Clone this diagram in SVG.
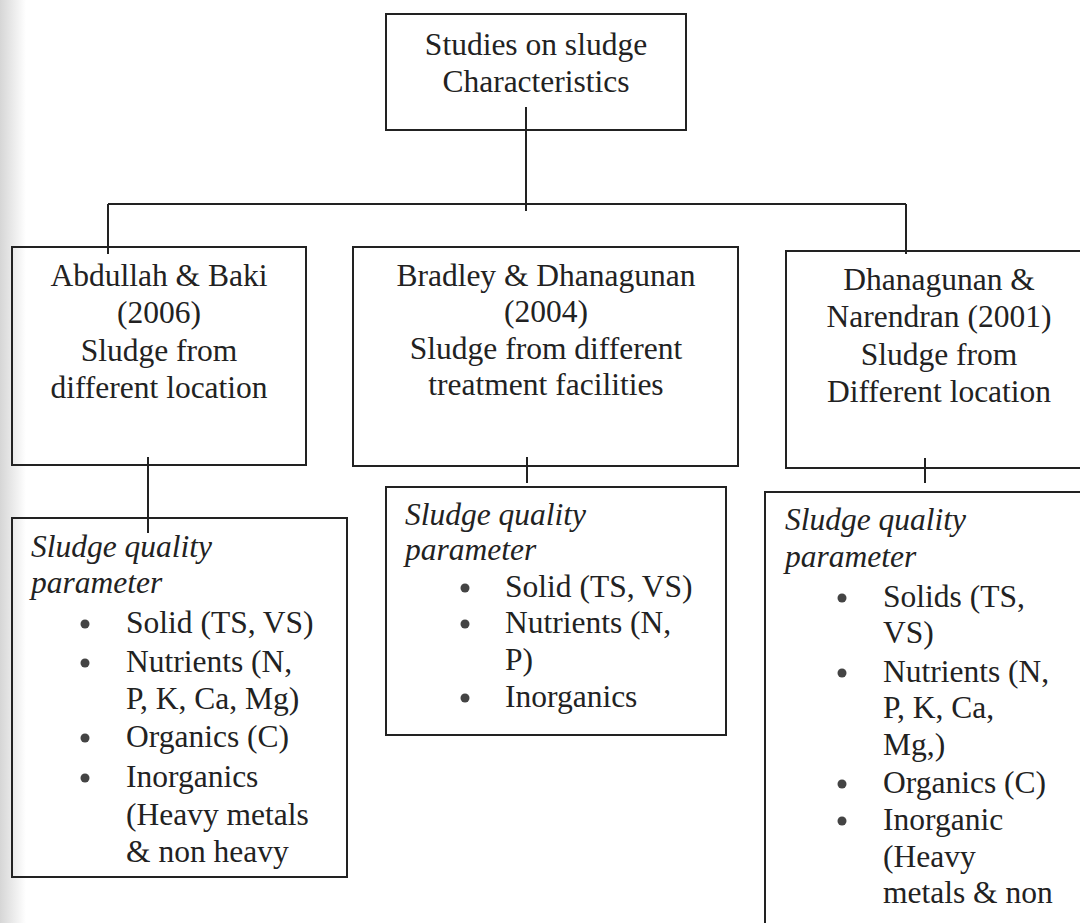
<svg xmlns="http://www.w3.org/2000/svg" width="1080" height="923" viewBox="0 0 1080 923">
<defs>
<linearGradient id="scan" x1="0" y1="0" x2="1" y2="0">
<stop offset="0" stop-color="#d6d6d6"/>
<stop offset="1" stop-color="#ffffff"/>
</linearGradient>
<style>
.box{fill:none;stroke:#222;stroke-width:2}
.ln{fill:none;stroke:#222;stroke-width:2}
.t{font-size:31.5px;fill:#222}
.c{text-anchor:middle}
.i{font-style:italic}
.b{fill:#444}
</style>
</defs>
<rect width="1080" height="923" fill="#fff"/>
<rect x="0" y="0" width="26" height="923" fill="url(#scan)"/>

<g id="connectors">
<path class="ln" d="M526 107V211"/>
<path class="ln" d="M108 204H906"/>
<path class="ln" d="M108 204V254"/>
<path class="ln" d="M906 204V254"/>
<path class="ln" d="M148 457V533"/>
<path class="ln" d="M527 457V483"/>
<path class="ln" d="M925 458V483"/>
</g>

<g font-family="Liberation Serif, Tinos, DejaVu Serif, Noto Serif, serif">
<g id="root">
<rect class="box" x="386" y="14" width="300" height="116"/>
<text class="t c" x="536" y="55">Studies on sludge</text>
<text class="t c" x="536" y="92">Characteristics</text>
</g>

<g id="study1">
<rect class="box" x="12" y="247" width="294" height="218"/>
<text class="t c" x="159" y="286">Abdullah &amp; Baki</text>
<text class="t c" x="159" y="323">(2006)</text>
<text class="t c" x="159" y="361">Sludge from</text>
<text class="t c" x="159" y="398">different location</text>
</g>

<g id="study2">
<rect class="box" x="353" y="247" width="385" height="219"/>
<text class="t c" x="546" y="286">Bradley &amp; Dhanagunan</text>
<text class="t c" x="546" y="322">(2004)</text>
<text class="t c" x="546" y="359">Sludge from different</text>
<text class="t c" x="546" y="395">treatment facilities</text>
</g>

<g id="study3">
<rect class="box" x="786" y="251" width="310" height="217"/>
<text class="t c" x="939" y="290">Dhanagunan &amp;</text>
<text class="t c" x="939" y="327">Narendran (2001)</text>
<text class="t c" x="939" y="365">Sludge from</text>
<text class="t c" x="939" y="402">Different location</text>
</g>

<g id="params1">
<rect class="box" x="12" y="518" width="335" height="359"/>
<text class="t i" x="31" y="557">Sludge quality</text>
<text class="t i" x="31" y="593">parameter</text>
<circle class="b" cx="85" cy="624" r="4.5"/>
<circle class="b" cx="85" cy="663" r="4.5"/>
<circle class="b" cx="85" cy="738" r="4.5"/>
<circle class="b" cx="85" cy="778" r="4.5"/>
<text class="t" x="126" y="633">Solid (TS, VS)</text>
<text class="t" x="126" y="672">Nutrients (N,</text>
<text class="t" x="126" y="709">P, K, Ca, Mg)</text>
<text class="t" x="126" y="747">Organics (C)</text>
<text class="t" x="126" y="787">Inorganics</text>
<text class="t" x="126" y="825">(Heavy metals</text>
<text class="t" x="126" y="862">&amp; non heavy</text>
</g>

<g id="params2">
<rect class="box" x="386" y="487" width="340" height="248"/>
<text class="t i" x="405" y="525">Sludge quality</text>
<text class="t i" x="405" y="560">parameter</text>
<circle class="b" cx="465" cy="588" r="4.5"/>
<circle class="b" cx="465" cy="624" r="4.5"/>
<circle class="b" cx="465" cy="698" r="4.5"/>
<text class="t" x="505" y="597">Solid (TS, VS)</text>
<text class="t" x="505" y="633">Nutrients (N,</text>
<text class="t" x="505" y="670">P)</text>
<text class="t" x="505" y="707">Inorganics</text>
</g>

<g id="params3">
<rect class="box" x="765" y="492" width="330" height="450"/>
<text class="t i" x="785" y="530">Sludge quality</text>
<text class="t i" x="785" y="567">parameter</text>
<circle class="b" cx="842" cy="598" r="4.5"/>
<circle class="b" cx="842" cy="673" r="4.5"/>
<circle class="b" cx="842" cy="784" r="4.5"/>
<circle class="b" cx="842" cy="821" r="4.5"/>
<text class="t" x="883" y="607">Solids (TS,</text>
<text class="t" x="883" y="643">VS)</text>
<text class="t" x="883" y="682">Nutrients (N,</text>
<text class="t" x="883" y="718">P, K, Ca,</text>
<text class="t" x="883" y="755">Mg,)</text>
<text class="t" x="883" y="793">Organics (C)</text>
<text class="t" x="883" y="830">Inorganic</text>
<text class="t" x="883" y="867">(Heavy</text>
<text class="t" x="883" y="903">metals &amp; non</text>
</g>
</g>
</svg>
